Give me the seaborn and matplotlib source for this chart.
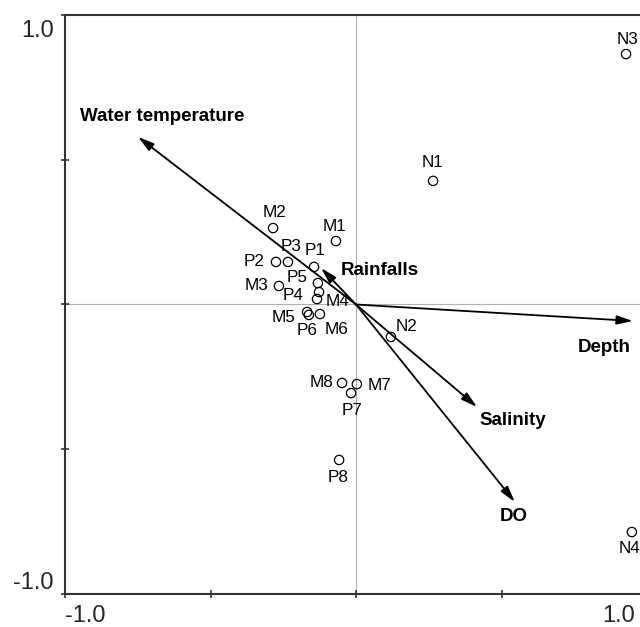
import matplotlib
matplotlib.use("Agg")
import matplotlib.pyplot as plt
import matplotlib.transforms as mtransforms
import seaborn as sns
import pandas as pd

# ---- data ----
site_names = ["N3", "N1", "M2", "M1", "P3", "P2", "P1", "P5", "M3", "M4", "P4",
              "M5", "P6", "M6", "N2", "M8", "M7", "P7", "P8", "N4"]
site_x = [0.928, 0.265, -0.285, -0.069, -0.234, -0.275, -0.144, -0.131, -0.265, -0.127, -0.134,
          -0.168, -0.162, -0.124, 0.120, -0.048, 0.003, -0.017, -0.058, 0.948]
site_y = [0.865, 0.427, 0.264, 0.219, 0.147, 0.147, 0.130, 0.074, 0.064, 0.043, 0.019,
          -0.026, -0.036, -0.033, -0.112, -0.271, -0.275, -0.306, -0.537, -0.786]

env_names = ["Water temperature", "Rainfalls", "Depth", "Salinity", "DO"]
env_x = [-0.749, -0.120, 0.952, 0.416, 0.546]
env_y = [0.579, 0.126, -0.057, -0.354, -0.682]

tick_values = [-1.0, -0.5, 0.0, 0.5, 1.0]
tick_labels = ["-1.0", "", "", "", "1.0"]

# ---- layout (label offsets in pixels, label anchor positions) ----
site_offsets = {
    "N3": (1, 15), "N1": (-1, 18), "M2": (1, 16), "M1": (-1, 15), "P3": (3, 15),
    "P2": (-22, 0), "P1": (1, 16), "P5": (-21, 6), "M3": (-22, 0), "M4": (18, -9),
    "P4": (-24, 3), "M5": (-24, -5), "P6": (-2, -16), "M6": (17, -15), "N2": (16, 10),
    "M8": (-20, 0), "M7": (23, -1), "P7": (1, -17), "P8": (-1, -18), "N4": (-2, -16),
}
env_label_pos = {
    "Water temperature": (-0.948, 0.651),
    "Rainfalls": (-0.052, 0.119),
    "Depth": (0.763, -0.147),
    "Salinity": (0.426, -0.399),
    "DO": (0.495, -0.731),
}

sns.set_theme(style="white")
plt.rcParams["font.family"] = ["Liberation Sans", "DejaVu Sans"]

fig = plt.figure(figsize=(6.4, 6.27), dpi=100)
W, H = 640, 627
left_px, right_px, top_px, bottom_px = 65, 647, 15, 594
ax = fig.add_axes([left_px / W, 1 - bottom_px / H, (right_px - left_px) / W, (bottom_px - top_px) / H])
ax.set_xlim(-1, 1)
ax.set_ylim(-1, 1)

ax.axhline(0, color="#b0b0b0", lw=0.8, zorder=0)
ax.axvline(0, color="#b0b0b0", lw=0.8, zorder=0)

df = pd.DataFrame({"x": site_x, "y": site_y, "name": site_names})
sns.scatterplot(data=df, x="x", y="y", ax=ax, marker="o", s=45,
                facecolor="none", edgecolor="black", linewidth=0.9, zorder=3)

for n, x, y in zip(site_names, site_x, site_y):
    dx, dy = site_offsets[n]
    ax.annotate(n, (x, y), xytext=(dx, dy), textcoords="offset pixels",
                ha="center", va="center", fontsize=12.3, color="black")

for n, x, y in zip(env_names, env_x, env_y):
    ax.annotate("", xy=(x, y), xytext=(0, 0),
                arrowprops=dict(arrowstyle="-|>,head_length=0.8,head_width=0.22",
                                color="black", lw=1.3, shrinkA=0, shrinkB=0))
    lx, ly = env_label_pos[n]
    ax.text(lx, ly, n, ha="left", va="center", fontsize=13.5, fontweight="bold", color="black")

ax.set_xticks(tick_values)
ax.set_yticks(tick_values)
ax.set_xticklabels(tick_labels, fontsize=17)
ax.set_yticklabels(tick_labels, fontsize=17)
ax.tick_params(axis="both", which="both", direction="inout", length=6, width=1.2,
               color="#333333", bottom=True, left=True, top=False, right=False)
ax.tick_params(axis="x", pad=5)
ax.tick_params(axis="y", pad=5)


def shift(label, dx_px, dy_px):
    label.set_transform(label.get_transform() +
                        mtransforms.ScaledTranslation(dx_px / 100, dy_px / 100, fig.dpi_scale_trans))


xl = ax.get_xticklabels()
xl[0].set_ha("left")
xl[-1].set_ha("right")
shift(xl[-1], -12, 0)
yl = ax.get_yticklabels()
yl[0].set_va("bottom")
yl[-1].set_va("top")
shift(yl[-1], 0, -5)
ax.set_xlabel("")
ax.set_ylabel("")
for s in ax.spines.values():
    s.set_visible(True)
    s.set_color("#333333")
    s.set_linewidth(1.5)

fig.savefig("out.png", dpi=100)
